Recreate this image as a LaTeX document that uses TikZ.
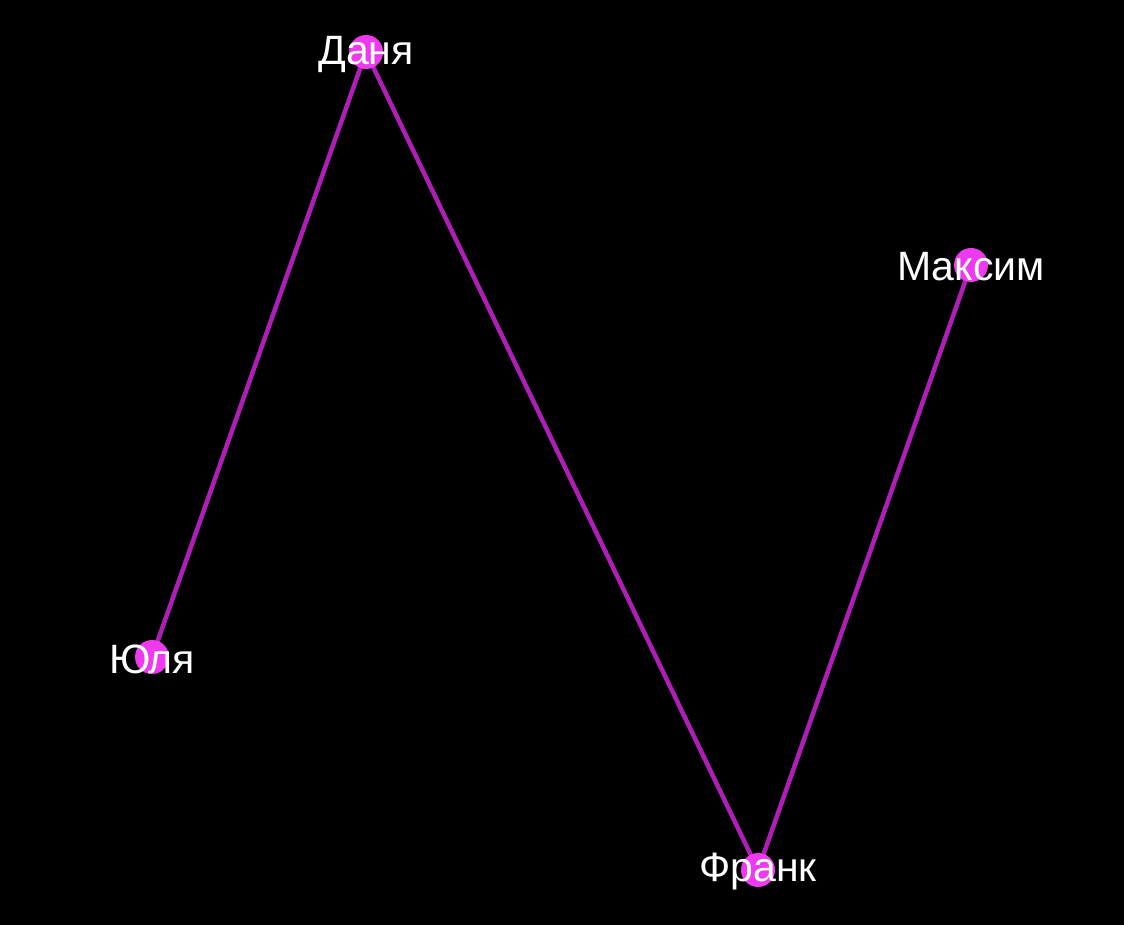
\documentclass[tikz,border=0pt]{standalone}
\usepackage{fontspec}
\setmainfont{Liberation Sans}
\definecolor{edgec}{HTML}{B01EB8}
\definecolor{nodec}{HTML}{EE3AEE}
\begin{document}
\begin{tikzpicture}[x=1pt,y=1pt,
  vert/.style={circle,fill=nodec,minimum size=34pt,inner sep=0pt},
  lab/.style={text=white,font=\fontsize{41}{49}\selectfont,inner sep=0pt,yshift=-2pt},
  edge/.style={draw=edgec,line width=4.5pt}]
\useasboundingbox (0,0) rectangle (1124,924);
\fill[black] (-5,-5) rectangle (1129,929);
\coordinate (dp) at (366,872);
\coordinate (mp) at (971,659);
\coordinate (yp) at (152,267);
\coordinate (fp) at (758,54);
\draw[edge] (yp) -- (dp) -- (fp) -- (mp);
\node[vert] (d) at (dp) {};
\node[vert] (m) at (mp) {};
\node[vert] (y) at (yp) {};
\node[vert] (f) at (fp) {};
\node[lab] at (d.center) {Даня};
\node[lab] at (m.center) {Максим};
\node[lab] at (y.center) {Юля};
\node[lab] at (f.center) {Франк};
\end{tikzpicture}
\end{document}
